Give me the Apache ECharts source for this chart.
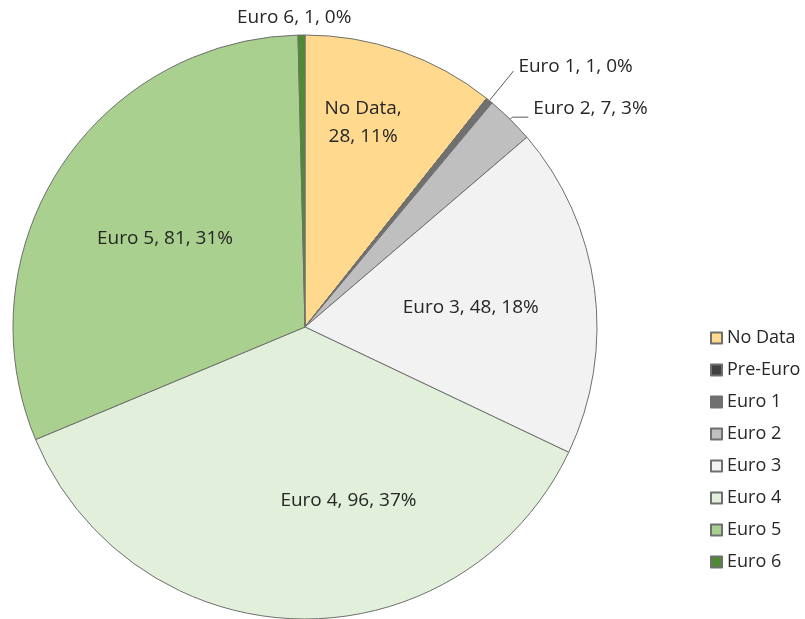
<!DOCTYPE html>
<html>
<head>
<meta charset="utf-8">
<title>Euro standard</title>
<script src="https://cdn.jsdelivr.net/npm/echarts@6/dist/echarts.min.js"></script>
<style>
  html, body { margin: 0; padding: 0; background: #fff; }
  #main { width: 805px; height: 619px; }
</style>
</head>
<body>
<div id="main"></div>
<script>
  var categories = ['No Data', 'Pre-Euro', 'Euro 1', 'Euro 2', 'Euro 3', 'Euro 4', 'Euro 5', 'Euro 6'];
  var counts = [28, 0, 1, 7, 48, 96, 81, 1];
  var colors = ['#ffd98e', '#404040', '#707070', '#bfbfbf', '#f2f2f2', '#e2efda', '#a9d08e', '#4e8a32'];

  // label placement per slice: inside / outside / none
  var labelModes = ['inside', 'none', 'outside', 'outside', 'inside', 'inside', 'inside', 'outside'];
  // nudges so labels sit where Excel's "best fit" put them
  var labelShift = [[9, -64], [0, 0], [0, -5], [0, -9], [18, 0], [47, 25], [-15, -7], [55, -5]];
  var lineLen = [[0, 0], [0, 0], [38, 0], [3, 16], [0, 0], [0, 0], [0, 0], [12, 0]];

  var total = counts.reduce(function (a, b) { return a + b; }, 0);
  var font = 'Open Sans';

  var data = categories.map(function (name, i) {
    var mode = labelModes[i];
    return {
      name: name,
      value: counts[i],
      itemStyle: { color: colors[i] },
      label: { show: mode !== 'none', position: mode === 'inside' ? 'inside' : 'outside' },
      labelLine: {
        show: mode === 'outside' && name !== 'Euro 6',
        length: lineLen[i][0],
        length2: lineLen[i][1]
      }
    };
  });

  var myChart = echarts.init(document.getElementById('main'));
  var option = {
    backgroundColor: '#fff',
    animation: false,
    legend: {
      orient: 'vertical',
      left: 705,
      top: 322,
      icon: 'rect',
      itemWidth: 11,
      itemHeight: 11,
      itemGap: 10,
      selectedMode: false,
      textStyle: { fontFamily: font, fontSize: 18, color: '#262626', lineHeight: 22 },
      data: categories
    },
    series: [{
      type: 'pie',
      center: [305, 327],
      radius: 292,
      startAngle: 90,
      clockwise: true,
      avoidLabelOverlap: false,
      minAngle: 0,
      itemStyle: { borderColor: '#6f6f6f', borderWidth: 1 },
      label: {
        fontFamily: font,
        fontSize: 19,
        color: '#262626',
        lineHeight: 28,
        formatter: function (p) {
          var pct = Math.round(p.value / total * 100);
          var sep = p.name === 'No Data' ? ',\n' : ', ';
          return p.name + sep + p.value + ', ' + pct + '%';
        }
      },
      labelLine: { lineStyle: { color: '#595959', width: 1 } },
      labelLayout: function (params) {
        var s = labelShift[params.dataIndex];
        return { dx: s[0], dy: s[1] };
      },
      emphasis: { disabled: true },
      data: data
    }]
  };
  myChart.setOption(option);
</script>
</body>
</html>
